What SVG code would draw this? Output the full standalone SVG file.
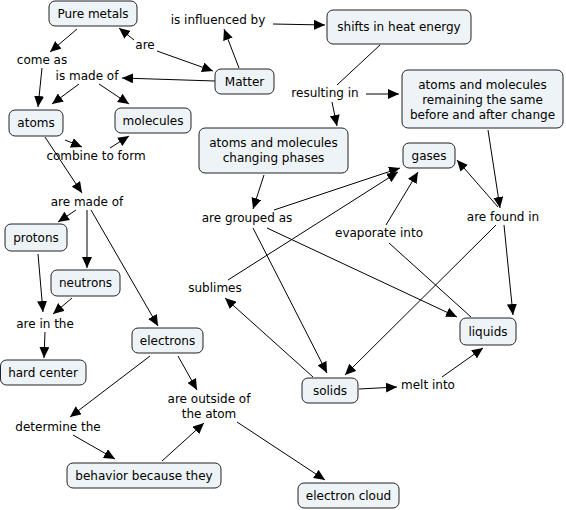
<svg xmlns="http://www.w3.org/2000/svg" width="566" height="510" viewBox="0 0 566 510">
<defs>
<marker id="ah" markerUnits="userSpaceOnUse" markerWidth="11" markerHeight="10" refX="11" refY="5" orient="auto">
<path d="M0,0 L11,5 L0,10 z" fill="#000"/>
</marker>
<style>
.n rect{fill:#edf3f6;stroke:#222;stroke-width:1}
text{font-family:"DejaVu Sans",Verdana,sans-serif;font-size:12px;fill:#000;text-anchor:middle}
#conn line{stroke:#000;stroke-width:1}
#conn line.a{marker-end:url(#ah)}
</style>
</defs>
<rect width="566" height="510" fill="#fff"/>
<g id="conn">
<line class="a" x1="77" y1="29" x2="50" y2="52"/>
<line class="a" x1="134" y1="40" x2="119" y2="28"/>
<line class="a" x1="157" y1="51" x2="213" y2="71"/>
<line class="a" x1="215" y1="81" x2="122" y2="78"/>
<line class="a" x1="79" y1="84" x2="52" y2="104"/>
<line class="a" x1="99" y1="84" x2="129" y2="104"/>
<line class="a" x1="42" y1="68" x2="38" y2="107"/>
<line class="a" x1="65" y1="140" x2="82" y2="147"/>
<line class="a" x1="110" y1="148" x2="129" y2="136"/>
<line class="a" x1="45" y1="137" x2="82" y2="193"/>
<line class="a" x1="239" y1="68" x2="224" y2="29"/>
<line class="a" x1="273" y1="24" x2="325" y2="25"/>
<line x1="380" y1="45" x2="337" y2="85"/>
<line class="a" x1="366" y1="94" x2="399" y2="94"/>
<line class="a" x1="332" y1="102" x2="337" y2="126"/>
<line class="a" x1="488" y1="130" x2="500" y2="208"/>
<line class="a" x1="264" y1="175" x2="253" y2="209"/>
<line class="a" x1="274" y1="210" x2="400" y2="168"/>
<line class="a" x1="267" y1="228" x2="457" y2="317"/>
<line class="a" x1="253" y1="228" x2="327" y2="373"/>
<line class="a" x1="313" y1="377" x2="225" y2="298"/>
<line class="a" x1="228" y1="280" x2="398" y2="172"/>
<line x1="471" y1="317" x2="389" y2="243"/>
<line class="a" x1="386" y1="225" x2="418" y2="172"/>
<line class="a" x1="498" y1="207" x2="457" y2="160"/>
<line class="a" x1="504" y1="225" x2="513" y2="315"/>
<line class="a" x1="496" y1="225" x2="345" y2="375"/>
<line class="a" x1="359" y1="389" x2="397" y2="387"/>
<line class="a" x1="442" y1="377" x2="483" y2="348"/>
<line class="a" x1="76" y1="210" x2="58" y2="222"/>
<line class="a" x1="87" y1="210" x2="87" y2="268"/>
<line class="a" x1="91" y1="210" x2="158" y2="326"/>
<line class="a" x1="38" y1="254" x2="43" y2="312"/>
<line class="a" x1="72" y1="298" x2="53" y2="314"/>
<line class="a" x1="45" y1="332" x2="44" y2="358"/>
<line class="a" x1="150" y1="356" x2="70" y2="417"/>
<line class="a" x1="178" y1="356" x2="197" y2="390"/>
<line class="a" x1="73" y1="435" x2="115" y2="459"/>
<line class="a" x1="162" y1="461" x2="204" y2="423"/>
<line class="a" x1="237" y1="422" x2="325" y2="480"/>
</g>
<g id="labels">
<text x="218" y="24">is influenced by</text>
<text x="145" y="49">are</text>
<text x="42" y="64">come as</text>
<text x="87" y="80">is made of</text>
<text x="96" y="160">combine to form</text>
<text x="87" y="206">are made of</text>
<text x="45" y="328">are in the</text>
<text x="325" y="97">resulting in</text>
<text x="247" y="222">are grouped as</text>
<text x="379" y="237">evaporate into</text>
<text x="503" y="221">are found in</text>
<text x="215" y="292">sublimes</text>
<text x="428" y="389">melt into</text>
<text x="209" y="403">are outside of</text>
<text x="209" y="418">the atom</text>
<text x="58" y="431">determine the</text>
</g>
<g id="pure-metals" class="n"><rect x="49" y="1" width="88" height="25" rx="6"/><text x="93" y="18">Pure metals</text></g>
<g id="matter" class="n"><rect x="215" y="69" width="59" height="25" rx="6"/><text x="244.5" y="86">Matter</text></g>
<g id="shifts" class="n"><rect x="327" y="10" width="144" height="34" rx="6"/><text x="399" y="31">shifts in heat energy</text></g>
<g id="remaining" class="n"><rect x="402" y="70" width="161" height="58" rx="6"/><text x="482.5" y="89">atoms and molecules</text><text x="482.5" y="104">remaining the same</text><text x="482.5" y="118.5">before and after change</text></g>
<g id="changing" class="n"><rect x="199" y="128" width="149" height="45" rx="6"/><text x="273.5" y="147">atoms and molecules</text><text x="273.5" y="162">changing phases</text></g>
<g id="gases" class="n"><rect x="403" y="143" width="52" height="25" rx="6"/><text x="429" y="160">gases</text></g>
<g id="liquids" class="n"><rect x="460" y="318" width="56" height="27" rx="6"/><text x="488" y="336">liquids</text></g>
<g id="solids" class="n"><rect x="302" y="378" width="56" height="25" rx="6"/><text x="330" y="395">solids</text></g>
<g id="atoms" class="n"><rect x="9" y="110" width="54" height="26" rx="6"/><text x="36" y="127">atoms</text></g>
<g id="molecules" class="n"><rect x="115" y="108" width="76" height="25" rx="6"/><text x="153" y="125">molecules</text></g>
<g id="protons" class="n"><rect x="5" y="224" width="62" height="27" rx="6"/><text x="36" y="242">protons</text></g>
<g id="neutrons" class="n"><rect x="51" y="270" width="69" height="26" rx="6"/><text x="85.5" y="287">neutrons</text></g>
<g id="hard-center" class="n"><rect x="0.5" y="360" width="85.5" height="25" rx="6"/><text x="43" y="377">hard center</text></g>
<g id="electrons" class="n"><rect x="132" y="328" width="71" height="25" rx="6"/><text x="167.5" y="345">electrons</text></g>
<g id="behavior" class="n"><rect x="67" y="463" width="154" height="25" rx="6"/><text x="144" y="480">behavior because they</text></g>
<g id="electron-cloud" class="n"><rect x="298" y="483" width="101" height="25" rx="6"/><text x="348.5" y="500">electron cloud</text></g>
</svg>
